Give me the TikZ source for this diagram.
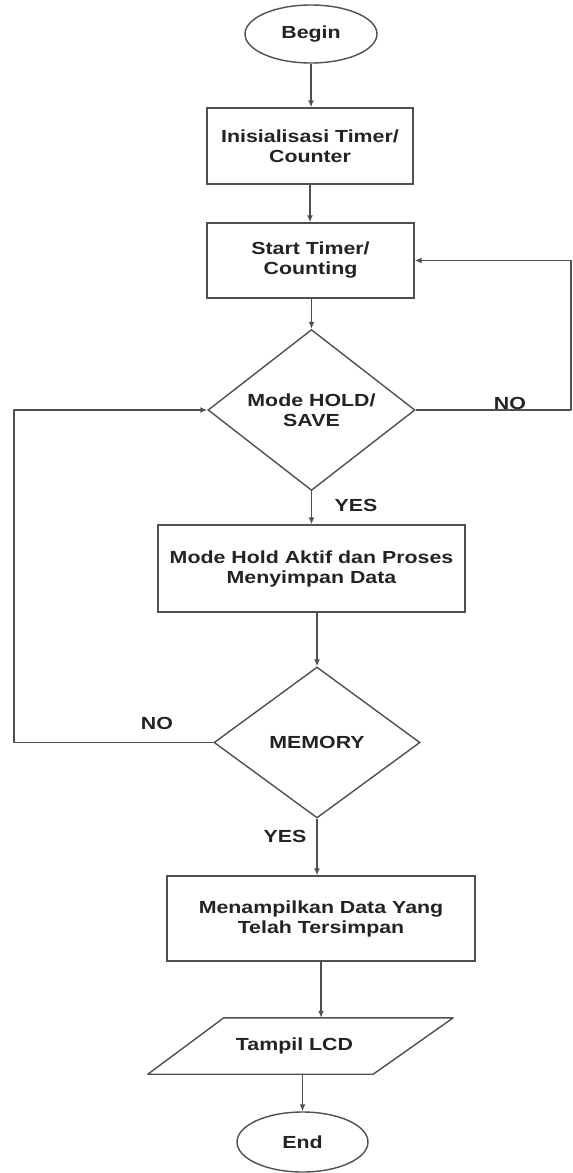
\documentclass[tikz,border=0pt]{standalone}
\usepackage{fontspec}
\newfontfamily\flowfont{Liberation Sans}[FakeStretch=1.22]
\usetikzlibrary{shapes.geometric,arrows.meta}
\definecolor{linegray}{RGB}{80,80,80}
\definecolor{textc}{RGB}{35,35,35}
\begin{document}
\begin{tikzpicture}[x=1pt,y=-1pt,
  txt/.style={font=\flowfont\bfseries\fontsize{17.5}{20}\selectfont, text=textc, align=center},
  shp/.style={txt, draw=linegray, line width=1.4pt, inner sep=0pt},
  box/.style={shp, rectangle},
  term/.style={shp, ellipse},
  decis/.style={shp, diamond},
  lbl/.style={txt, inner sep=0pt},
  edge/.style={draw=linegray, line width=1.4pt, line join=round},
  arr/.style={edge, -{Latex[length=7pt,width=6pt]}}]
\useasboundingbox (0,0) rectangle (573,1173);
\fill[white] (0,0) rectangle (573,1173);

\node[term, minimum width=132pt, minimum height=58pt] (begin) at (311,34) {Begin};
\node[box, minimum width=206pt, minimum height=76pt] (init) at (310,146) {Inisialisasi Timer/\\Counter};
\node[box, minimum width=207pt, minimum height=75pt] (start) at (310.5,260.5) {Start Timer/\\Counting};
\node[decis, minimum width=207pt, minimum height=154pt] (d1) at (311.5,410) {Mode HOLD/\\SAVE};
\node[box, minimum width=307pt, minimum height=87pt] (hold) at (311.5,568.5) {Mode Hold Aktif dan Proses\\Menyimpan Data};
\node[decis, minimum width=206pt, minimum height=151pt] (d2) at (317,742.5) {MEMORY};
\node[box, minimum width=308pt, minimum height=85pt] (show) at (321,918.5) {Menampilkan Data Yang\\Telah Tersimpan};
\node[txt, rectangle, inner sep=0pt, minimum width=305pt, minimum height=56pt] (lcd) at (300.5,1046) {\hspace*{-12pt}Tampil LCD};
\draw[edge] ([xshift=76pt]lcd.north west) -- (lcd.north east)
  -- ([xshift=-80pt]lcd.south east) -- (lcd.south west) -- cycle;
\node[term, minimum width=131pt, minimum height=60pt] (end) at (302.5,1142) {End};

\node[lbl] (yes1) at (356,505) {YES};
\node[lbl] (no1) at (510,403) {NO};
\node[lbl] (no2) at (157,723) {NO};
\node[lbl] (yes2) at (285,836) {YES};

\coordinate (rx) at (571,0);
\coordinate (lx) at (14,0);

\draw[arr] (begin.south) -- (begin.south |- init.north);
\draw[arr] (init.south) -- (init.south |- start.north);
\draw[arr] (d1.north |- start.south) -- (d1.north);
\draw[arr] (d1.south) -- (d1.south |- hold.north);
\draw[arr] (d2.north |- hold.south) -- (d2.north);
\draw[arr] (d2.south) -- (d2.south |- show.north);
\draw[arr] (show.south) -- (show.south |- lcd.north);
\draw[arr] (end.north |- lcd.south) -- (end.north);
\draw[arr] (d1.east) -- (d1.east -| rx) -- (start.east -| rx) -- (start.east);
\draw[arr] (d2.west) -- (d2.west -| lx) -- (d1.west -| lx) -- (d1.west);
\end{tikzpicture}
\end{document}
